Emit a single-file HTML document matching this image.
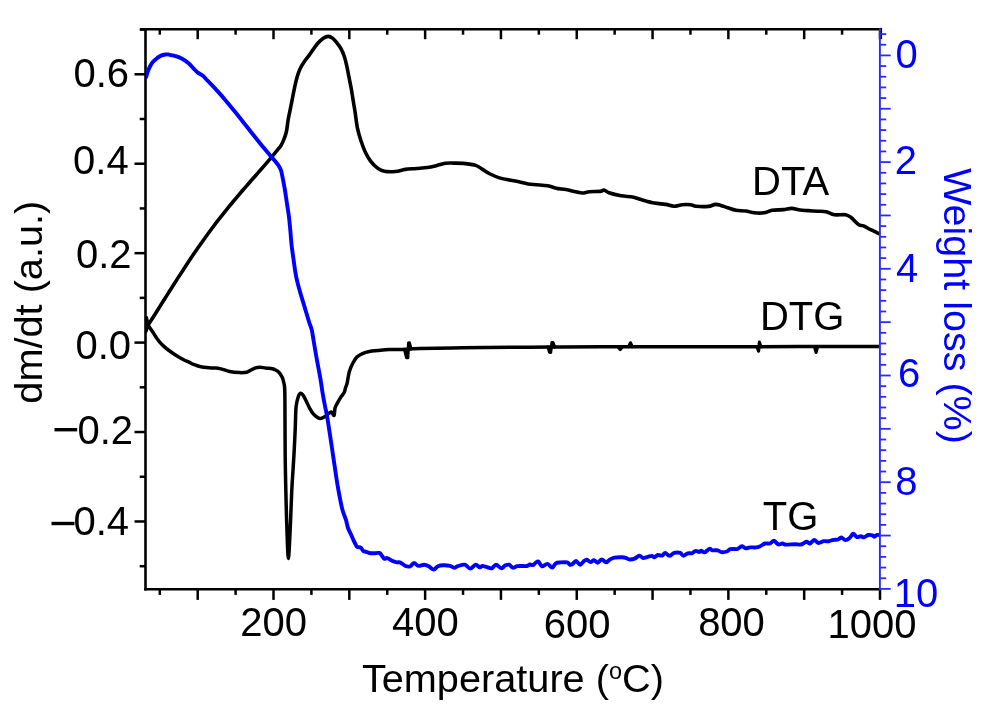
<!DOCTYPE html>
<html><head><meta charset="utf-8"><title>DTA DTG TG</title>
<style>
html,body{margin:0;padding:0;background:#fff;}
body{width:1000px;height:720px;overflow:hidden;font-family:"Liberation Sans",sans-serif;}
svg{display:block;filter:blur(0.35px);}
</style></head><body>
<svg width="1000" height="720" viewBox="0 0 1000 720">
<rect width="1000" height="720" fill="#fff"/>
<g stroke="#000" stroke-width="2.6" stroke-linecap="butt"><line x1="140.2" y1="29.20" x2="881.7" y2="29.20"/><line x1="144.2" y1="589.30" x2="880.2" y2="589.30"/><line x1="145.50" y1="27.90" x2="145.50" y2="590.60"/><line x1="880.80" y1="27.90" x2="880.80" y2="39.00"/></g>
<g stroke="#000" stroke-width="2.5"><line x1="159.79" y1="589.30" x2="159.79" y2="594.90"/><line x1="159.79" y1="29.20" x2="159.79" y2="34.70"/><line x1="197.70" y1="589.30" x2="197.70" y2="599.90"/><line x1="197.70" y1="29.20" x2="197.70" y2="39.20"/><line x1="235.60" y1="589.30" x2="235.60" y2="594.90"/><line x1="235.60" y1="29.20" x2="235.60" y2="34.70"/><line x1="273.51" y1="589.30" x2="273.51" y2="599.90"/><line x1="273.51" y1="29.20" x2="273.51" y2="39.20"/><line x1="311.41" y1="589.30" x2="311.41" y2="594.90"/><line x1="311.41" y1="29.20" x2="311.41" y2="34.70"/><line x1="349.32" y1="589.30" x2="349.32" y2="599.90"/><line x1="349.32" y1="29.20" x2="349.32" y2="39.20"/><line x1="387.23" y1="589.30" x2="387.23" y2="594.90"/><line x1="387.23" y1="29.20" x2="387.23" y2="34.70"/><line x1="425.13" y1="589.30" x2="425.13" y2="599.90"/><line x1="425.13" y1="29.20" x2="425.13" y2="39.20"/><line x1="463.03" y1="589.30" x2="463.03" y2="594.90"/><line x1="463.03" y1="29.20" x2="463.03" y2="34.70"/><line x1="500.94" y1="589.30" x2="500.94" y2="599.90"/><line x1="500.94" y1="29.20" x2="500.94" y2="39.20"/><line x1="538.85" y1="589.30" x2="538.85" y2="594.90"/><line x1="538.85" y1="29.20" x2="538.85" y2="34.70"/><line x1="576.75" y1="589.30" x2="576.75" y2="599.90"/><line x1="576.75" y1="29.20" x2="576.75" y2="39.20"/><line x1="614.65" y1="589.30" x2="614.65" y2="594.90"/><line x1="614.65" y1="29.20" x2="614.65" y2="34.70"/><line x1="652.56" y1="589.30" x2="652.56" y2="599.90"/><line x1="652.56" y1="29.20" x2="652.56" y2="39.20"/><line x1="690.46" y1="589.30" x2="690.46" y2="594.90"/><line x1="690.46" y1="29.20" x2="690.46" y2="34.70"/><line x1="728.37" y1="589.30" x2="728.37" y2="599.90"/><line x1="728.37" y1="29.20" x2="728.37" y2="39.20"/><line x1="766.28" y1="589.30" x2="766.28" y2="594.90"/><line x1="766.28" y1="29.20" x2="766.28" y2="34.70"/><line x1="804.18" y1="589.30" x2="804.18" y2="599.90"/><line x1="804.18" y1="29.20" x2="804.18" y2="39.20"/><line x1="842.09" y1="589.30" x2="842.09" y2="594.90"/><line x1="842.09" y1="29.20" x2="842.09" y2="34.70"/><line x1="879.99" y1="589.30" x2="879.99" y2="599.90"/><line x1="879.99" y1="29.20" x2="879.99" y2="39.20"/><line x1="145.50" y1="566.20" x2="139.70" y2="566.20"/><line x1="145.50" y1="521.48" x2="134.50" y2="521.48"/><line x1="145.50" y1="476.76" x2="139.70" y2="476.76"/><line x1="145.50" y1="432.04" x2="134.50" y2="432.04"/><line x1="145.50" y1="387.32" x2="139.70" y2="387.32"/><line x1="145.50" y1="342.60" x2="134.50" y2="342.60"/><line x1="145.50" y1="297.88" x2="139.70" y2="297.88"/><line x1="145.50" y1="253.16" x2="134.50" y2="253.16"/><line x1="145.50" y1="208.44" x2="139.70" y2="208.44"/><line x1="145.50" y1="163.72" x2="134.50" y2="163.72"/><line x1="145.50" y1="119.00" x2="139.70" y2="119.00"/><line x1="145.50" y1="74.28" x2="134.50" y2="74.28"/><line x1="145.50" y1="29.56" x2="139.70" y2="29.56"/></g>
<defs><clipPath id="pc"><rect x="145.8" y="29.2" width="734.4" height="560.1"/></clipPath></defs>
<g clip-path="url(#pc)" fill="none" stroke-linejoin="round" stroke-linecap="round">
<path d="M146.00,331.00 C146.33,330.04 146.83,327.49 148.00,325.22 C149.17,322.96 151.33,320.03 153.00,317.41 C154.67,314.79 156.33,312.15 158.00,309.51 C159.67,306.87 161.33,304.22 163.00,301.57 C164.67,298.92 166.33,296.27 168.00,293.63 C169.67,290.99 171.33,288.34 173.00,285.72 C174.67,283.10 176.33,280.48 178.00,277.89 C179.67,275.30 181.33,272.72 183.00,270.16 C184.67,267.60 186.33,265.06 188.00,262.55 C189.67,260.04 191.33,257.55 193.00,255.09 C194.67,252.63 196.33,250.19 198.00,247.79 C199.67,245.39 201.33,243.01 203.00,240.67 C204.67,238.33 206.33,236.02 208.00,233.74 C209.67,231.46 211.33,229.21 213.00,226.99 C214.67,224.77 216.33,222.58 218.00,220.42 C219.67,218.26 221.33,216.13 223.00,214.03 C224.67,211.93 226.33,209.86 228.00,207.81 C229.67,205.76 231.33,203.74 233.00,201.74 C234.67,199.74 236.33,197.76 238.00,195.80 C239.67,193.84 241.33,191.91 243.00,189.98 C244.67,188.05 246.33,186.14 248.00,184.23 C249.67,182.32 251.33,180.43 253.00,178.53 C254.67,176.63 256.33,174.75 258.00,172.85 C259.67,170.95 261.33,169.05 263.00,167.13 C264.67,165.21 266.33,163.29 268.00,161.34 C269.67,159.39 271.42,157.33 273.00,155.41 C274.58,153.49 276.22,151.37 277.50,149.80 C278.78,148.23 279.70,147.57 280.70,146.00 C281.70,144.43 282.70,142.25 283.50,140.40 C284.30,138.55 284.95,136.70 285.50,134.90 C286.05,133.10 286.35,132.17 286.80,129.60 C287.25,127.03 287.63,122.82 288.20,119.50 C288.77,116.18 289.45,113.45 290.20,109.70 C290.95,105.95 291.90,101.02 292.70,97.00 C293.50,92.98 294.25,88.98 295.00,85.60 C295.75,82.22 296.37,79.48 297.20,76.70 C298.03,73.92 298.88,71.32 300.00,68.90 C301.12,66.48 302.42,64.42 303.90,62.20 C305.38,59.98 307.33,57.73 308.90,55.60 C310.47,53.47 311.82,51.45 313.30,49.40 C314.78,47.35 316.13,45.15 317.80,43.30 C319.47,41.45 321.55,39.45 323.30,38.30 C325.05,37.15 326.72,36.40 328.30,36.40 C329.88,36.40 331.32,37.15 332.80,38.30 C334.28,39.45 335.82,41.53 337.20,43.30 C338.58,45.07 339.90,46.67 341.10,48.90 C342.30,51.13 343.47,53.92 344.40,56.70 C345.33,59.48 345.95,62.27 346.70,65.60 C347.45,68.93 348.17,73.00 348.90,76.70 C349.63,80.40 350.42,84.00 351.10,87.80 C351.78,91.60 352.35,95.55 353.00,99.50 C353.65,103.45 354.27,106.78 355.00,111.50 C355.73,116.22 356.43,123.00 357.40,127.80 C358.37,132.60 359.53,136.37 360.80,140.30 C362.07,144.23 363.37,147.93 365.00,151.40 C366.63,154.87 368.52,158.32 370.60,161.10 C372.68,163.88 375.20,166.40 377.50,168.10 C379.80,169.80 381.38,170.73 384.40,171.30 C387.42,171.87 392.12,171.82 395.60,171.50 C399.08,171.18 401.83,169.90 405.30,169.40 C408.77,168.90 412.70,168.82 416.40,168.50 C420.10,168.18 424.08,168.00 427.50,167.50 C430.92,167.00 433.93,166.20 436.90,165.50 C439.87,164.80 442.52,163.70 445.30,163.30 C448.08,162.90 450.60,163.08 453.60,163.10 C456.60,163.12 459.60,163.02 463.30,163.40 C467.00,163.78 472.55,164.37 475.80,165.40 C479.05,166.43 480.48,168.21 482.80,169.60 C485.12,170.99 486.93,172.37 489.70,173.75 C492.47,175.13 496.15,176.86 499.40,177.90 C502.65,178.94 505.95,179.37 509.20,180.00 C512.45,180.63 515.72,181.03 518.90,181.70 C522.08,182.37 525.33,183.50 528.30,184.00 C531.27,184.50 533.45,184.40 536.70,184.70 C539.95,185.00 544.57,185.22 547.80,185.80 C551.03,186.38 553.10,187.57 556.10,188.20 C559.10,188.83 562.55,189.02 565.80,189.60 C569.05,190.18 572.82,191.13 575.60,191.70 C578.38,192.27 580.20,193.00 582.50,193.00 C584.80,193.00 586.38,191.97 589.40,191.70 C592.42,191.43 598.17,191.68 600.60,191.40 C603.03,191.12 602.62,189.77 604.00,190.00 C605.38,190.23 606.05,191.83 608.90,192.80 C611.75,193.77 616.98,195.07 621.10,195.80 C625.22,196.53 629.90,196.45 633.60,197.20 C637.30,197.95 639.83,199.32 643.30,200.30 C646.77,201.28 650.68,202.42 654.40,203.10 C658.12,203.78 662.35,203.88 665.60,204.40 C668.85,204.93 671.13,206.20 673.90,206.25 C676.67,206.30 679.42,204.96 682.20,204.70 C684.98,204.44 688.28,204.44 690.60,204.70 C692.92,204.96 693.15,205.97 696.10,206.25 C699.05,206.53 705.10,206.71 708.30,206.40 C711.50,206.09 713.22,204.57 715.30,204.40 C717.38,204.23 718.72,204.83 720.80,205.40 C722.88,205.97 725.25,206.98 727.80,207.80 C730.35,208.62 733.10,209.77 736.10,210.30 C739.10,210.83 742.78,210.58 745.80,211.00 C748.82,211.42 751.18,212.50 754.20,212.80 C757.22,213.10 760.90,213.22 763.90,212.80 C766.90,212.38 768.97,210.83 772.20,210.30 C775.43,209.77 780.05,209.92 783.30,209.60 C786.55,209.28 788.92,208.33 791.70,208.40 C794.48,208.47 797.27,209.63 800.00,210.00 C802.73,210.37 805.13,210.39 808.10,210.60 C811.07,210.81 814.80,211.07 817.80,211.25 C820.80,211.43 823.33,211.12 826.10,211.70 C828.87,212.27 831.15,214.20 834.40,214.70 C837.65,215.20 842.82,214.23 845.60,214.70 C848.38,215.17 848.91,215.83 851.10,217.50 C853.29,219.17 856.67,223.32 858.75,224.70 C860.83,226.08 861.62,224.97 863.60,225.80 C865.58,226.63 867.95,228.37 870.60,229.70 C873.25,231.03 878.02,233.12 879.50,233.80" stroke="#000" stroke-width="3.6"/>
<path d="M146.30,317.50 C146.52,318.33 147.17,321.02 147.60,322.50 C148.03,323.98 148.12,324.93 148.90,326.40 C149.68,327.87 151.15,329.57 152.30,331.30 C153.45,333.03 154.63,335.07 155.80,336.80 C156.97,338.53 158.03,340.18 159.30,341.70 C160.57,343.22 161.90,344.52 163.40,345.90 C164.90,347.28 166.67,348.73 168.30,350.00 C169.93,351.27 171.47,352.33 173.20,353.50 C174.93,354.67 176.97,355.96 178.70,357.00 C180.43,358.04 181.82,358.85 183.60,359.75 C185.38,360.65 187.73,361.62 189.40,362.40 C191.07,363.17 191.70,363.67 193.60,364.40 C195.50,365.13 197.65,366.22 200.80,366.80 C203.95,367.38 209.30,367.60 212.50,367.90 C215.70,368.20 217.15,368.00 220.00,368.60 C222.85,369.20 226.35,370.83 229.60,371.50 C232.85,372.17 236.65,372.48 239.50,372.60 C242.35,372.72 244.77,372.63 246.70,372.20 C248.63,371.77 249.62,370.73 251.10,370.00 C252.58,369.27 254.12,368.27 255.60,367.80 C257.08,367.33 258.33,367.17 260.00,367.20 C261.67,367.23 263.57,367.75 265.60,368.00 C267.63,368.25 270.75,368.47 272.20,368.70 C273.65,368.93 273.23,368.85 274.30,369.40 C275.37,369.95 277.28,370.68 278.60,372.00 C279.92,373.32 281.30,375.38 282.20,377.30 C283.10,379.22 283.57,381.22 284.00,383.50 C284.43,385.78 284.63,384.92 284.80,391.00 C284.97,397.08 284.93,409.17 285.00,420.00 C285.07,430.83 285.08,445.17 285.20,456.00 C285.32,466.83 285.47,474.33 285.70,485.00 C285.93,495.67 286.30,509.83 286.60,520.00 C286.90,530.17 287.20,539.58 287.50,546.00 C287.80,552.42 288.08,558.50 288.40,558.50 C288.72,558.50 289.03,552.42 289.40,546.00 C289.77,539.58 290.20,529.33 290.60,520.00 C291.00,510.67 291.35,499.07 291.80,490.00 C292.25,480.93 292.87,472.82 293.30,465.60 C293.73,458.38 294.07,453.18 294.40,446.70 C294.73,440.22 295.02,433.37 295.30,426.70 C295.58,420.03 295.60,411.70 296.10,406.70 C296.60,401.70 297.55,398.93 298.30,396.70 C299.05,394.47 299.77,393.48 300.60,393.30 C301.43,393.12 302.28,394.12 303.30,395.60 C304.32,397.08 305.58,399.98 306.70,402.20 C307.82,404.42 308.90,406.95 310.00,408.90 C311.10,410.85 312.05,412.47 313.30,413.90 C314.55,415.33 316.28,416.75 317.50,417.50 C318.72,418.25 319.40,418.52 320.60,418.40 C321.80,418.28 323.32,417.65 324.70,416.80 C326.08,415.95 327.73,414.10 328.90,413.30 C330.07,412.50 330.83,411.65 331.70,412.00 C332.57,412.35 333.53,416.10 334.10,415.40 C334.67,414.70 334.47,410.00 335.10,407.80 C335.73,405.60 336.97,403.93 337.90,402.20 C338.83,400.47 339.65,399.02 340.70,397.40 C341.75,395.78 343.38,394.13 344.20,392.50 C345.02,390.87 345.10,389.22 345.60,387.60 C346.10,385.98 346.58,385.45 347.20,382.80 C347.82,380.15 348.37,374.95 349.30,371.70 C350.23,368.45 351.53,365.73 352.80,363.30 C354.07,360.87 355.28,358.72 356.90,357.10 C358.52,355.48 360.42,354.53 362.50,353.60 C364.58,352.67 366.85,352.00 369.40,351.50 C371.95,351.00 374.55,350.92 377.80,350.60 C381.05,350.28 385.20,349.78 388.90,349.60 C392.60,349.42 394.82,349.67 400.00,349.50 C405.18,349.33 409.67,348.88 420.00,348.60 C430.33,348.32 447.00,348.02 462.00,347.80 C477.00,347.58 495.33,347.43 510.00,347.30 C524.67,347.17 535.00,347.08 550.00,347.00 C565.00,346.92 575.00,346.85 600.00,346.80 C625.00,346.75 666.67,346.73 700.00,346.70 C733.33,346.67 770.00,346.62 800.00,346.60 C830.00,346.58 866.67,346.60 880.00,346.60" stroke="#000" stroke-width="3.5"/>
<path d="M404.50,349.40 L406.60,357.60 L407.80,357.60 L408.60,342.80 L409.40,342.80 L411.00,348.80" stroke="#000" stroke-width="3.2"/>
<path d="M548.00,347.10 L549.60,352.40 L550.60,352.40 L552.00,342.60 L553.00,342.60 L554.60,347.00" stroke="#000" stroke-width="3.2"/>
<path d="M618.00,346.80 L620.20,349.60 L622.40,346.80" stroke="#000" stroke-width="3.2"/>
<path d="M628.60,346.70 L630.40,342.80 L632.30,346.70" stroke="#000" stroke-width="3.2"/>
<path d="M757.00,346.70 L758.60,351.20 L759.40,342.20 L761.00,346.70" stroke="#000" stroke-width="3.2"/>
<path d="M814.40,346.60 L816.10,352.40 L817.60,346.60" stroke="#000" stroke-width="3.2"/>
<path d="M146.20,77.00 C146.50,75.97 147.28,72.72 148.00,70.80 C148.72,68.88 149.67,67.02 150.50,65.50 C151.33,63.98 151.92,62.92 153.00,61.70 C154.08,60.48 155.75,59.17 157.00,58.20 C158.25,57.23 159.08,56.52 160.50,55.90 C161.92,55.28 164.08,54.72 165.50,54.50 C166.92,54.28 167.92,54.47 169.00,54.60 C170.08,54.73 171.05,55.08 172.00,55.30 C172.95,55.52 173.08,55.37 174.70,55.90 C176.32,56.43 179.38,57.27 181.70,58.50 C184.02,59.73 186.57,61.58 188.60,63.30 C190.63,65.02 192.37,67.25 193.90,68.80 C195.43,70.35 196.35,71.47 197.80,72.60 C199.25,73.73 201.07,74.35 202.60,75.60 C204.13,76.85 205.77,78.85 207.00,80.10 C208.23,81.35 208.67,81.71 210.00,83.09 C211.33,84.47 213.33,86.56 215.00,88.36 C216.67,90.16 218.33,92.02 220.00,93.91 C221.67,95.80 223.33,97.74 225.00,99.70 C226.67,101.66 228.33,103.67 230.00,105.69 C231.67,107.71 233.33,109.76 235.00,111.82 C236.67,113.88 238.33,115.96 240.00,118.05 C241.67,120.14 243.33,122.25 245.00,124.35 C246.67,126.45 248.33,128.57 250.00,130.67 C251.67,132.77 253.33,134.88 255.00,136.96 C256.67,139.05 258.33,141.12 260.00,143.18 C261.67,145.24 263.33,147.28 265.00,149.29 C266.67,151.30 268.47,153.46 270.00,155.24 C271.53,157.03 272.88,158.42 274.20,160.00 C275.52,161.58 276.82,163.10 277.90,164.70 C278.98,166.30 280.00,167.87 280.70,169.60 C281.40,171.33 281.43,171.93 282.10,175.10 C282.77,178.27 283.92,184.03 284.70,188.60 C285.48,193.17 286.10,197.87 286.80,202.50 C287.50,207.13 288.32,211.82 288.90,216.40 C289.48,220.98 289.85,225.18 290.30,230.00 C290.75,234.82 291.03,240.20 291.60,245.30 C292.17,250.40 292.97,255.52 293.70,260.60 C294.43,265.68 294.98,270.72 296.00,275.80 C297.02,280.88 298.40,286.00 299.80,291.10 C301.20,296.20 302.87,301.30 304.40,306.40 C305.93,311.50 307.77,317.77 309.00,321.70 C310.23,325.63 311.05,326.95 311.80,330.00 C312.55,333.05 312.92,336.53 313.50,340.00 C314.08,343.47 314.67,347.13 315.30,350.80 C315.93,354.47 316.65,358.47 317.30,362.00 C317.95,365.53 318.62,368.83 319.20,372.00 C319.78,375.17 320.23,377.50 320.80,381.00 C321.37,384.50 321.90,388.83 322.60,393.00 C323.30,397.17 324.30,402.38 325.00,406.00 C325.70,409.62 326.22,411.52 326.80,414.70 C327.38,417.88 327.78,420.52 328.50,425.10 C329.22,429.68 330.12,435.65 331.10,442.20 C332.08,448.75 333.28,456.98 334.40,464.40 C335.52,471.82 336.50,479.28 337.80,486.70 C339.10,494.12 340.83,503.35 342.20,508.90 C343.57,514.45 345.03,516.82 346.00,520.00 C346.97,523.18 347.03,525.30 348.00,528.00 C348.97,530.70 350.87,534.13 351.80,536.20 C352.73,538.27 353.00,539.10 353.60,540.40 C354.20,541.70 354.80,542.90 355.40,544.00 C356.00,545.10 356.30,546.40 357.20,547.00 C358.10,547.60 359.80,546.95 360.80,547.60 C361.80,548.25 362.30,550.20 363.20,550.90 C364.10,551.60 365.20,551.45 366.20,551.80 C367.20,552.15 367.90,552.75 369.20,553.00 C370.50,553.25 372.30,553.30 374.00,553.30 C375.70,553.30 378.10,552.65 379.40,553.00 C380.70,553.35 381.00,554.45 381.80,555.40 C382.60,556.35 383.30,558.25 384.20,558.70 C385.10,559.15 385.90,557.75 387.20,558.10 C388.50,558.45 390.40,560.10 392.00,560.80 C393.60,561.50 395.50,562.05 396.80,562.30 C398.10,562.55 398.80,562.00 399.80,562.30 C400.80,562.60 401.80,563.45 402.80,564.10 C403.80,564.75 404.53,565.85 405.80,566.20 C407.07,566.55 409.03,566.75 410.40,566.20 C411.77,565.65 412.70,562.95 414.00,562.90 C415.30,562.85 416.50,565.60 418.20,565.90 C419.90,566.20 422.40,564.60 424.20,564.70 C426.00,564.80 427.40,565.70 429.00,566.50 C430.60,567.30 432.30,569.55 433.80,569.50 C435.30,569.45 436.40,566.90 438.00,566.20 C439.60,565.50 441.40,565.35 443.40,565.30 C445.40,565.25 448.20,565.50 450.00,565.90 C451.80,566.30 452.90,567.65 454.20,567.70 C455.50,567.75 456.03,566.70 457.80,566.20 C459.57,565.70 462.73,564.30 464.80,564.70 C466.87,565.10 468.40,568.60 470.20,568.60 C472.00,568.60 474.00,564.90 475.60,564.70 C477.20,564.50 478.70,567.20 479.80,567.40 C480.90,567.60 481.00,565.95 482.20,565.90 C483.40,565.85 485.40,566.70 487.00,567.10 C488.60,567.50 490.30,568.70 491.80,568.30 C493.30,567.90 494.40,564.70 496.00,564.70 C497.60,564.70 499.90,568.15 501.40,568.30 C502.90,568.45 503.70,566.20 505.00,565.60 C506.30,565.00 507.90,564.35 509.20,564.70 C510.50,565.05 511.50,567.45 512.80,567.70 C514.10,567.95 515.63,566.48 517.00,566.20 C518.37,565.92 519.33,566.03 521.00,566.00 C522.67,565.97 525.50,566.25 527.00,566.00 C528.50,565.75 529.00,564.65 530.00,564.50 C531.00,564.35 532.10,565.35 533.00,565.10 C533.90,564.85 534.50,563.60 535.40,563.00 C536.30,562.40 537.30,560.95 538.40,561.50 C539.50,562.05 540.50,565.90 542.00,566.30 C543.50,566.70 545.70,563.70 547.40,563.90 C549.10,564.10 550.80,567.60 552.20,567.50 C553.60,567.40 554.40,564.15 555.80,563.30 C557.20,562.45 558.70,562.55 560.60,562.40 C562.50,562.25 565.60,562.00 567.20,562.40 C568.80,562.80 569.30,564.53 570.20,564.80 C571.10,565.07 571.63,564.65 572.60,564.00 C573.57,563.35 574.73,560.77 576.00,560.90 C577.27,561.03 578.90,564.75 580.20,564.80 C581.50,564.85 582.70,562.05 583.80,561.20 C584.90,560.35 585.70,559.55 586.80,559.70 C587.90,559.85 589.20,562.00 590.40,562.10 C591.60,562.20 592.80,560.20 594.00,560.30 C595.20,560.40 596.30,562.85 597.60,562.70 C598.90,562.55 600.40,559.45 601.80,559.40 C603.20,559.35 604.70,562.35 606.00,562.40 C607.30,562.45 608.20,560.50 609.60,559.70 C611.00,558.90 612.30,558.00 614.40,557.60 C616.50,557.20 620.30,557.25 622.20,557.30 C624.10,557.35 624.57,557.53 625.80,557.90 C627.03,558.27 628.13,559.38 629.60,559.50 C631.07,559.62 632.97,559.25 634.60,558.60 C636.23,557.95 638.00,555.70 639.40,555.60 C640.80,555.50 641.60,557.80 643.00,558.00 C644.40,558.20 646.30,557.15 647.80,556.80 C649.30,556.45 650.90,555.80 652.00,555.90 C653.10,556.00 653.40,557.55 654.40,557.40 C655.40,557.25 656.70,555.30 658.00,555.00 C659.30,554.70 661.00,555.95 662.20,555.60 C663.40,555.25 664.00,552.85 665.20,552.90 C666.40,552.95 667.90,555.90 669.40,555.90 C670.90,555.90 672.40,553.40 674.20,552.90 C676.00,552.40 678.67,552.42 680.20,552.90 C681.73,553.38 682.13,555.73 683.40,555.80 C684.67,555.87 686.37,553.72 687.80,553.30 C689.23,552.88 690.70,553.70 692.00,553.30 C693.30,552.90 694.40,551.10 695.60,550.90 C696.80,550.70 698.30,552.15 699.20,552.10 C700.10,552.05 700.10,550.55 701.00,550.60 C701.90,550.65 703.20,552.70 704.60,552.40 C706.00,552.10 708.10,549.15 709.40,548.80 C710.70,548.45 711.00,550.05 712.40,550.30 C713.80,550.55 716.30,550.00 717.80,550.30 C719.30,550.60 719.90,551.90 721.40,552.10 C722.90,552.30 725.30,552.00 726.80,551.50 C728.30,551.00 728.70,549.50 730.40,549.10 C732.10,548.70 735.50,549.35 737.00,549.10 C738.50,548.85 738.53,548.08 739.40,547.60 C740.27,547.12 741.13,546.08 742.20,546.20 C743.27,546.32 744.50,548.10 745.80,548.30 C747.10,548.50 748.30,547.55 750.00,547.40 C751.70,547.25 754.30,547.60 756.00,547.40 C757.70,547.20 758.70,546.85 760.20,546.20 C761.70,545.55 763.40,543.95 765.00,543.50 C766.60,543.05 768.30,543.95 769.80,543.50 C771.30,543.05 772.60,540.65 774.00,540.80 C775.40,540.95 776.80,543.95 778.20,544.40 C779.60,544.85 781.10,543.47 782.40,543.50 C783.70,543.53 783.90,544.48 786.00,544.60 C788.10,544.72 792.50,544.22 795.00,544.20 C797.50,544.18 799.10,544.90 801.00,544.50 C802.90,544.10 804.90,541.95 806.40,541.80 C807.90,541.65 808.70,543.90 810.00,543.60 C811.30,543.30 812.80,540.10 814.20,540.00 C815.60,539.90 816.80,542.80 818.40,543.00 C820.00,543.20 822.10,541.48 823.80,541.20 C825.50,540.92 827.00,541.53 828.60,541.30 C830.20,541.07 831.80,540.10 833.40,539.80 C835.00,539.50 836.90,539.90 838.20,539.50 C839.50,539.10 840.00,537.30 841.20,537.40 C842.40,537.50 844.00,540.00 845.40,540.10 C846.80,540.20 848.30,539.05 849.60,538.00 C850.90,536.95 852.00,533.95 853.20,533.80 C854.40,533.65 855.50,536.70 856.80,537.10 C858.10,537.50 859.80,536.15 861.00,536.20 C862.20,536.25 862.80,537.60 864.00,537.40 C865.20,537.20 866.80,535.35 868.20,535.00 C869.60,534.65 871.40,535.00 872.40,535.30 C873.40,535.60 873.50,536.85 874.20,536.80 C874.90,536.75 875.55,535.30 876.60,535.00 C877.65,534.70 879.85,535.00 880.50,535.00" stroke="#00f" stroke-width="3.9"/>
</g>
<g stroke="#2a2aff" stroke-width="1.8"><line x1="879.90" y1="28.20" x2="879.90" y2="590.30" stroke-width="1.9"/><line x1="880.20" y1="34.06" x2="886.20" y2="34.06"/><line x1="880.20" y1="44.73" x2="886.20" y2="44.73"/><line x1="880.20" y1="55.40" x2="890.70" y2="55.40"/><line x1="880.20" y1="66.07" x2="886.20" y2="66.07"/><line x1="880.20" y1="76.74" x2="886.20" y2="76.74"/><line x1="880.20" y1="87.41" x2="886.20" y2="87.41"/><line x1="880.20" y1="98.08" x2="886.20" y2="98.08"/><line x1="880.20" y1="108.75" x2="890.70" y2="108.75"/><line x1="880.20" y1="119.42" x2="886.20" y2="119.42"/><line x1="880.20" y1="130.09" x2="886.20" y2="130.09"/><line x1="880.20" y1="140.76" x2="886.20" y2="140.76"/><line x1="880.20" y1="151.43" x2="886.20" y2="151.43"/><line x1="880.20" y1="162.10" x2="890.70" y2="162.10"/><line x1="880.20" y1="172.77" x2="886.20" y2="172.77"/><line x1="880.20" y1="183.44" x2="886.20" y2="183.44"/><line x1="880.20" y1="194.11" x2="886.20" y2="194.11"/><line x1="880.20" y1="204.78" x2="886.20" y2="204.78"/><line x1="880.20" y1="215.45" x2="890.70" y2="215.45"/><line x1="880.20" y1="226.12" x2="886.20" y2="226.12"/><line x1="880.20" y1="236.79" x2="886.20" y2="236.79"/><line x1="880.20" y1="247.46" x2="886.20" y2="247.46"/><line x1="880.20" y1="258.13" x2="886.20" y2="258.13"/><line x1="880.20" y1="268.80" x2="890.70" y2="268.80"/><line x1="880.20" y1="279.47" x2="886.20" y2="279.47"/><line x1="880.20" y1="290.14" x2="886.20" y2="290.14"/><line x1="880.20" y1="300.81" x2="886.20" y2="300.81"/><line x1="880.20" y1="311.48" x2="886.20" y2="311.48"/><line x1="880.20" y1="322.15" x2="890.70" y2="322.15"/><line x1="880.20" y1="332.82" x2="886.20" y2="332.82"/><line x1="880.20" y1="343.49" x2="886.20" y2="343.49"/><line x1="880.20" y1="354.16" x2="886.20" y2="354.16"/><line x1="880.20" y1="364.83" x2="886.20" y2="364.83"/><line x1="880.20" y1="375.50" x2="890.70" y2="375.50"/><line x1="880.20" y1="386.17" x2="886.20" y2="386.17"/><line x1="880.20" y1="396.84" x2="886.20" y2="396.84"/><line x1="880.20" y1="407.51" x2="886.20" y2="407.51"/><line x1="880.20" y1="418.18" x2="886.20" y2="418.18"/><line x1="880.20" y1="428.85" x2="890.70" y2="428.85"/><line x1="880.20" y1="439.52" x2="886.20" y2="439.52"/><line x1="880.20" y1="450.19" x2="886.20" y2="450.19"/><line x1="880.20" y1="460.86" x2="886.20" y2="460.86"/><line x1="880.20" y1="471.53" x2="886.20" y2="471.53"/><line x1="880.20" y1="482.20" x2="890.70" y2="482.20"/><line x1="880.20" y1="492.87" x2="886.20" y2="492.87"/><line x1="880.20" y1="503.54" x2="886.20" y2="503.54"/><line x1="880.20" y1="514.21" x2="886.20" y2="514.21"/><line x1="880.20" y1="524.88" x2="886.20" y2="524.88"/><line x1="880.20" y1="535.55" x2="890.70" y2="535.55"/><line x1="880.20" y1="546.22" x2="886.20" y2="546.22"/><line x1="880.20" y1="556.89" x2="886.20" y2="556.89"/><line x1="880.20" y1="567.56" x2="886.20" y2="567.56"/><line x1="880.20" y1="578.23" x2="886.20" y2="578.23"/><line x1="880.20" y1="588.90" x2="890.70" y2="588.90"/></g>
<text x="129.10" y="87.10" text-anchor="end" fill="#000" font-size="40.00" font-family="Liberation Sans, sans-serif" >0.6</text>
<text x="128.70" y="174.10" text-anchor="end" fill="#000" font-size="40.00" font-family="Liberation Sans, sans-serif" >0.4</text>
<text x="131.50" y="267.80" text-anchor="end" fill="#000" font-size="40.00" font-family="Liberation Sans, sans-serif" >0.2</text>
<text x="131.00" y="358.80" text-anchor="end" fill="#000" font-size="40.00" font-family="Liberation Sans, sans-serif" >0.0</text>
<text x="133.00" y="443.60" text-anchor="end" fill="#000" font-size="40.00" font-family="Liberation Sans, sans-serif" >0.2</text>
<text x="129.00" y="535.30" text-anchor="end" fill="#000" font-size="40.00" font-family="Liberation Sans, sans-serif" >0.4</text>
<rect x="54.5" y="428.0" width="22.7" height="3.4" fill="#000"/>
<rect x="51.5" y="521.8" width="23.0" height="3.4" fill="#000"/>
<text x="273.60" y="636.00" text-anchor="middle" fill="#000" font-size="40.00" font-family="Liberation Sans, sans-serif" >200</text>
<text x="425.30" y="636.00" text-anchor="middle" fill="#000" font-size="40.00" font-family="Liberation Sans, sans-serif" >400</text>
<text x="577.20" y="638.30" text-anchor="middle" fill="#000" font-size="40.00" font-family="Liberation Sans, sans-serif" >600</text>
<text x="731.50" y="636.00" text-anchor="middle" fill="#000" font-size="40.00" font-family="Liberation Sans, sans-serif" >800</text>
<text x="872.00" y="638.30" text-anchor="middle" fill="#000" font-size="40.00" font-family="Liberation Sans, sans-serif" >1000</text>
<text x="906.50" y="68.10" text-anchor="middle" fill="#00f" font-size="40.00" font-family="Liberation Sans, sans-serif" >0</text>
<text x="905.80" y="174.40" text-anchor="middle" fill="#00f" font-size="40.00" font-family="Liberation Sans, sans-serif" >2</text>
<text x="907.10" y="282.40" text-anchor="middle" fill="#00f" font-size="40.00" font-family="Liberation Sans, sans-serif" >4</text>
<text x="909.00" y="387.40" text-anchor="middle" fill="#00f" font-size="40.00" font-family="Liberation Sans, sans-serif" >6</text>
<text x="906.30" y="495.30" text-anchor="middle" fill="#00f" font-size="40.00" font-family="Liberation Sans, sans-serif" >8</text>
<text x="916.00" y="606.50" text-anchor="middle" fill="#00f" font-size="40.00" font-family="Liberation Sans, sans-serif" >10</text>
<text x="790.60" y="195.40" text-anchor="middle" fill="#000" font-size="40.00" font-family="Liberation Sans, sans-serif" >DTA</text>
<text x="802.10" y="330.20" text-anchor="middle" fill="#000" font-size="40.00" font-family="Liberation Sans, sans-serif" >DTG</text>
<text x="790.50" y="530.20" text-anchor="middle" fill="#000" font-size="40.00" font-family="Liberation Sans, sans-serif" >TG</text>
<text x="512.90" y="692.00" text-anchor="middle" fill="#000" font-size="39.70" font-family="Liberation Sans, sans-serif" >Temperature (<tspan font-size="23.5" dy="-13.2">o</tspan><tspan dy="13.2">C)</tspan></text>
<text transform="translate(42.2,302.2) rotate(-90)" text-anchor="middle" font-size="39.7" font-family="Liberation Sans, sans-serif" fill="#000">dm/dt (a.u.)</text>
<text transform="translate(943.6,305.9) rotate(90)" text-anchor="middle" font-size="39.5" font-family="Liberation Sans, sans-serif" fill="#00f">Weight loss (%)</text>
</svg>
</body></html>
